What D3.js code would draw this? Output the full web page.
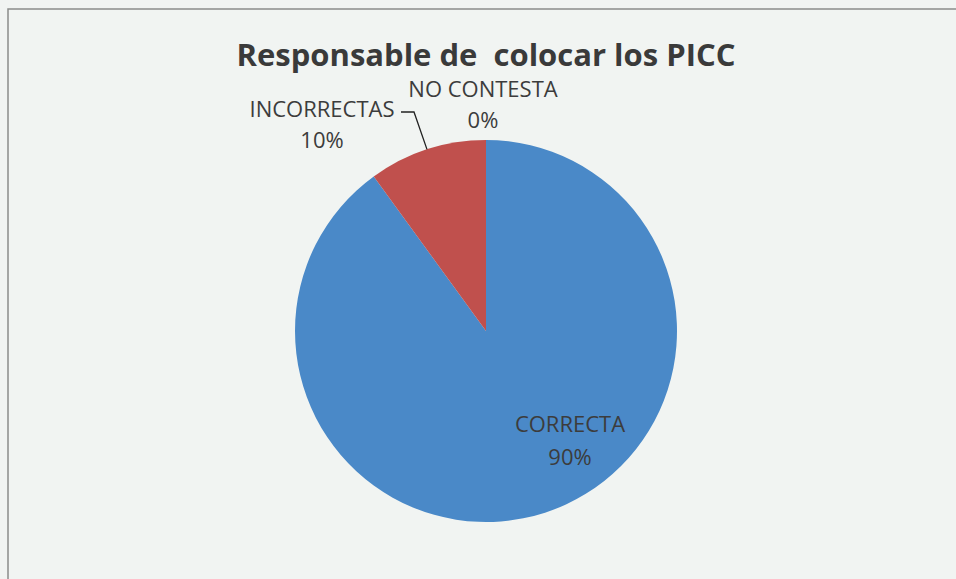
<!DOCTYPE html>
<html>
<head>
<meta charset="utf-8">
<script src="https://cdn.jsdelivr.net/npm/d3@7"></script>
<style>
  html, body { margin: 0; padding: 0; background: #f1f4f2; }
  svg { display: block; }
</style>
</head>
<body>
<svg id="chart" width="956" height="579"></svg>
<script>
const categories = ["CORRECTA", "INCORRECTAS", "NO CONTESTA"];
const values = [90, 10, 0];
const percentLabels = ["90%", "10%", "0%"];
const colors = ["#4a89c8", "#c0504d", "#9bbb59"];
const title = "Responsable de  colocar los PICC";

const data = categories.map((c, i) => ({ name: c, value: values[i], pct: percentLabels[i], color: colors[i] }));

const svg = d3.select("#chart");
const cx = 486, cy = 331, r = 191;
const fontFam = "'Open Sans', 'Noto Sans', sans-serif";

// frame
svg.append("rect").attr("x", 8).attr("y", 9).attr("width", 1000).attr("height", 600)
  .attr("fill", "none").attr("stroke", "#8a8c8b").attr("stroke-width", 1.5);

// title
svg.append("text").attr("x", cx).attr("y", 66).attr("text-anchor", "middle")
  .attr("font-family", fontFam).attr("font-weight", "bold").attr("font-size", 31)
  .attr("fill", "#3a3a3a").style("white-space", "pre").text(title);

const pie = d3.pie().value(d => d.value).sort(null).startAngle(0).endAngle(2 * Math.PI);
const arcs = pie(data);
const arc = d3.arc().innerRadius(0).outerRadius(r);

const g = svg.append("g").attr("transform", `translate(${cx},${cy})`);
g.selectAll("path").data(arcs.filter(a => a.data.value > 0)).join("path")
  .attr("d", arc).attr("fill", d => d.data.color);

// labels (Excel-like placement)
const labelPos = {
  "CORRECTA": { x: cx + 84, y: cy + 101, lh: 33 },
  "INCORRECTAS": { x: cx - 164, y: cy - 214, lh: 31 },
  "NO CONTESTA": { x: cx - 3, y: cy - 234, lh: 31 }
};
data.forEach(d => {
  const p = labelPos[d.name];
  const t = svg.append("text").attr("text-anchor", "middle")
    .attr("font-family", fontFam).attr("font-size", 22).attr("fill", "#3c3c3c");
  t.append("tspan").attr("x", p.x).attr("y", p.y).text(d.name);
  t.append("tspan").attr("x", p.x).attr("y", p.y + p.lh).text(d.pct);
});

// leader line for INCORRECTAS
const inc = arcs[1];
const mid = (inc.startAngle + inc.endAngle) / 2;
const edge = [cx + Math.sin(mid) * r, cy - Math.cos(mid) * r];
svg.append("path")
  .attr("d", d3.line()([[cx - 85, cy - 219], [cx - 72, cy - 219], edge]))
  .attr("fill", "none").attr("stroke", "#222").attr("stroke-width", 1.3);
</script>
</body>
</html>
